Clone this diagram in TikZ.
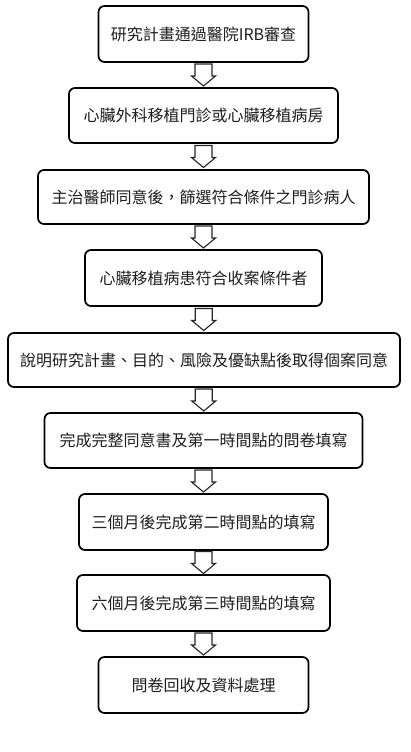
\documentclass[tikz,border=0pt]{standalone}
\usepackage{fontspec}
\setmainfont{Noto Sans CJK TC}
\usetikzlibrary{calc}
\tikzset{
  stepbox/.style={draw=black, line width=1.7pt, rounded corners=6pt, fill=white,
    inner sep=0pt, align=center, font=\fontsize{16pt}{18pt}\selectfont, text=black!88},
  blockarr/.style={draw=black!85, line width=1.1pt, fill=white, line join=miter}
}
\newcommand\flowarrow[2]{%
  \draw[blockarr] let \p1=($(#1.south)!0.5!(#2.north)$) in
    (\x1-8.5pt,\y1+11pt) -- (\x1+8.5pt,\y1+11pt) -- (\x1+8.5pt,\y1-1pt) --
    (\x1+12pt,\y1-1pt) -- (\x1,\y1-11pt) -- (\x1-12pt,\y1-1pt) --
    (\x1-8.5pt,\y1-1pt) -- cycle;}
\begin{document}
\begin{tikzpicture}[x=1pt,y=-1pt]
\useasboundingbox (0,0) rectangle (410,752);
\node[stepbox, minimum width=210pt, minimum height=56pt] (b1) at (203.5,34) {研究計畫通過醫院IRB審查};
\node[stepbox, minimum width=269pt, minimum height=55pt] (b2) at (203.5,115.5) {心臟外科移植門診或心臟移植病房};
\node[stepbox, minimum width=331pt, minimum height=54pt] (b3) at (203.5,197) {主治醫師同意後，篩選符合條件之門診病人};
\node[stepbox, minimum width=237pt, minimum height=56pt] (b4) at (203.5,278) {心臟移植病患符合收案條件者};
\node[stepbox, minimum width=392pt, minimum height=54pt] (b5) at (204,360) {說明研究計畫、目的、風險及優缺點後取得個案同意};
\node[stepbox, minimum width=318pt, minimum height=55pt] (b6) at (203.5,440.5) {完成完整同意書及第一時間點的問卷填寫};
\node[stepbox, minimum width=249pt, minimum height=56pt] (b7) at (203.5,522) {三個月後完成第二時間點的填寫};
\node[stepbox, minimum width=253pt, minimum height=56pt] (b8) at (203.5,603) {六個月後完成第三時間點的填寫};
\node[stepbox, minimum width=210pt, minimum height=56pt] (b9) at (203.5,685) {問卷回收及資料處理};
\flowarrow{b1}{b2}
\flowarrow{b2}{b3}
\flowarrow{b3}{b4}
\flowarrow{b4}{b5}
\flowarrow{b5}{b6}
\flowarrow{b6}{b7}
\flowarrow{b7}{b8}
\flowarrow{b8}{b9}
\end{tikzpicture}
\end{document}
